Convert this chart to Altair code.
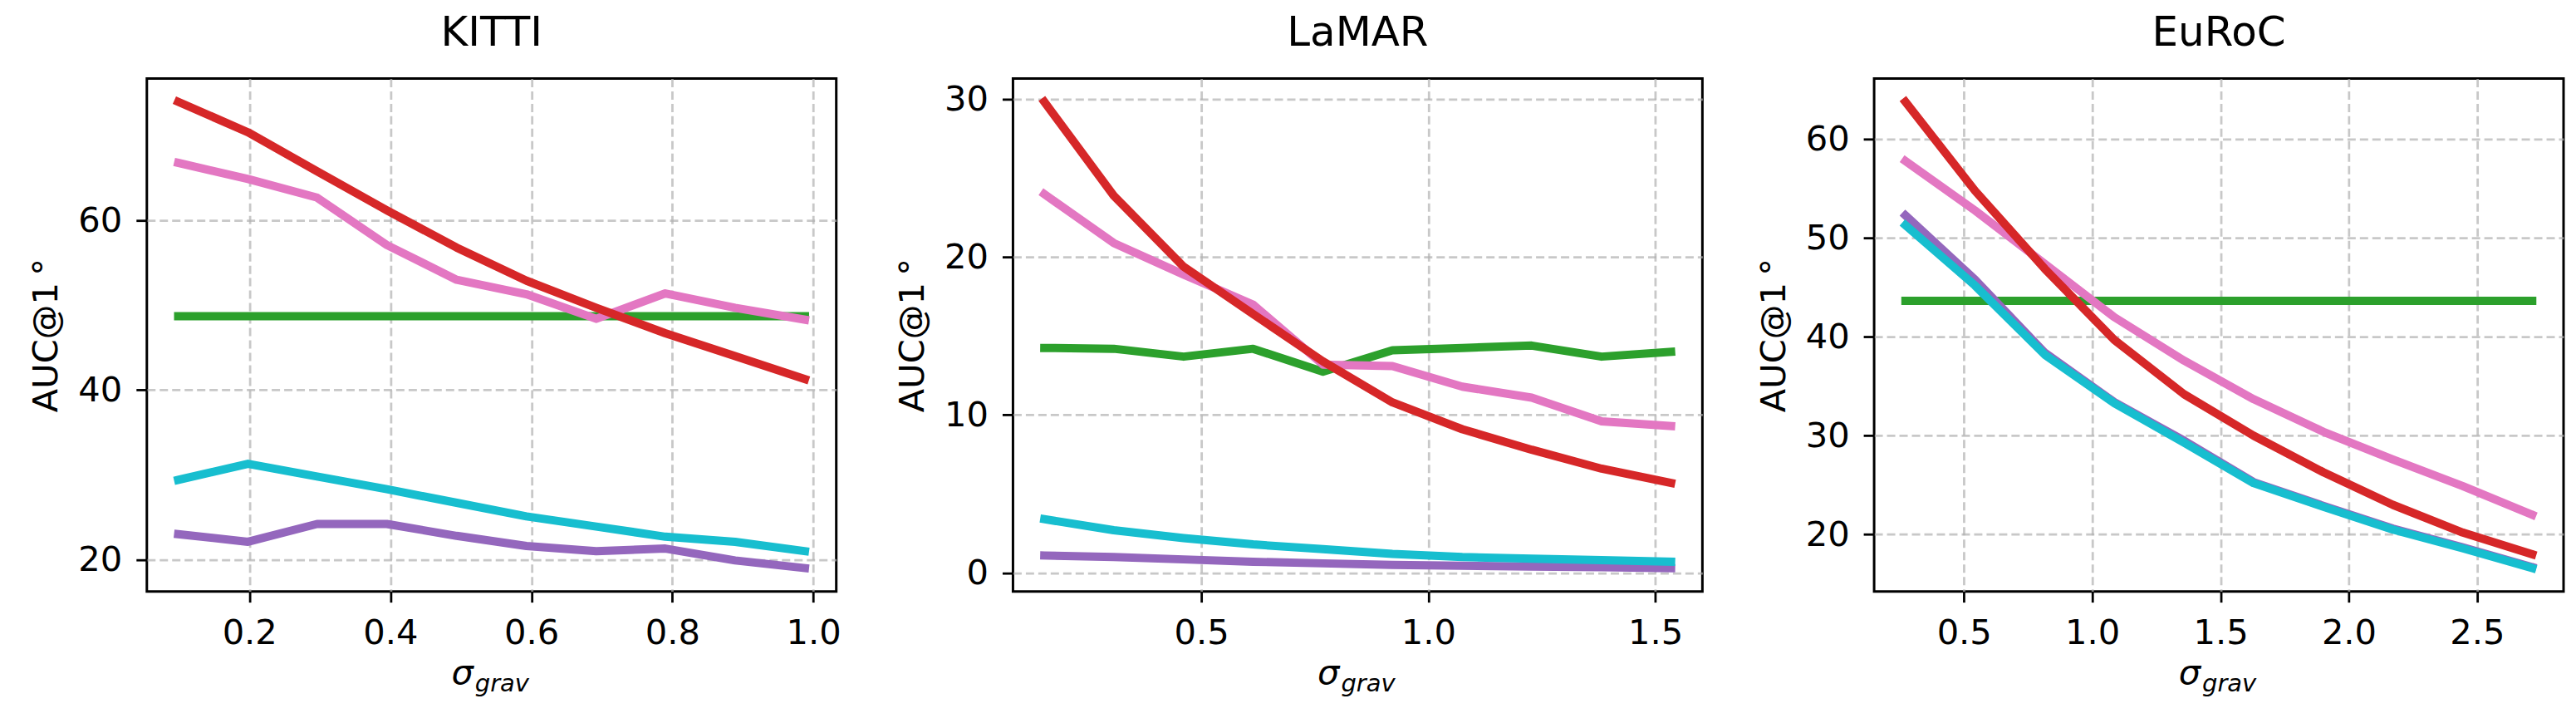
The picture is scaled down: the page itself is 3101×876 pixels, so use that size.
import altair as alt
import pandas as pd

# ---------------- data ----------------
titles = ["KITTI", "LaMAR", "EuRoC"]
series_order = ["green", "purple", "cyan", "pink", "red"]   # drawing order
series_colors = ["#2ca02c", "#9467bd", "#17becf", "#e377c2", "#d62728"]

kitti_x = [0.099, 0.198, 0.296, 0.395, 0.494, 0.593, 0.692, 0.790, 0.889, 0.988]
kitti_red = [74.0, 70.4, 65.8, 61.2, 56.8, 52.9, 49.7, 46.7, 44.0, 41.3]
kitti_pink = [66.8, 64.9, 62.7, 57.1, 53.0, 51.3, 48.4, 51.4, 49.7, 48.3]
kitti_green = [48.7, 48.7, 48.7, 48.7, 48.7, 48.7, 48.7, 48.7, 48.7, 48.7]
kitti_cyan = [29.4, 31.3, 29.8, 28.3, 26.7, 25.1, 23.9, 22.7, 22.1, 21.0]
kitti_purple = [23.0, 22.1, 24.2, 24.2, 22.8, 21.6, 21.0, 21.3, 19.9, 19.0]

lamar_x = [0.154, 0.307, 0.461, 0.614, 0.768, 0.921, 1.075, 1.228, 1.382, 1.535]
lamar_red = [29.85, 23.9, 19.4, 16.4, 13.4, 10.8, 9.1, 7.8, 6.6, 5.7]
lamar_pink = [24.0, 20.9, 18.9, 17.0, 13.2, 13.1, 11.8, 11.1, 9.6, 9.3]
lamar_green = [14.25, 14.2, 13.7, 14.2, 12.75, 14.1, 14.25, 14.4, 13.7, 14.0]
lamar_cyan = [3.4, 2.7, 2.2, 1.8, 1.5, 1.2, 1.0, 0.9, 0.8, 0.7]
lamar_purple = [1.1, 1.0, 0.85, 0.7, 0.6, 0.5, 0.45, 0.4, 0.35, 0.3]

euroc_x = [0.272, 0.543, 0.815, 1.086, 1.358, 1.629, 1.901, 2.172, 2.444, 2.715]
euroc_red = [63.8, 54.8, 46.9, 39.7, 34.2, 30.0, 26.3, 23.0, 20.2, 18.0]
euroc_pink = [57.8, 52.8, 47.4, 42.0, 37.6, 33.7, 30.4, 27.6, 24.9, 22.0]
euroc_green = [43.65, 43.65, 43.65, 43.65, 43.65, 43.65, 43.65, 43.65, 43.65, 43.65]
euroc_cyan = [51.3, 45.2, 38.2, 33.3, 29.3, 25.2, 22.8, 20.5, 18.6, 16.6]
euroc_purple = [52.3, 45.8, 38.4, 33.4, 29.5, 25.3, 22.9, 20.6, 18.7, 16.7]

kitti_xticks = [0.2, 0.4, 0.6, 0.8, 1.0]
kitti_yticks = [20, 40, 60]
lamar_xticks = [0.5, 1.0, 1.5]
lamar_yticks = [0, 10, 20, 30]
euroc_xticks = [0.5, 1.0, 1.5, 2.0, 2.5]
euroc_yticks = [20, 30, 40, 50, 60]

y_label = "AUC@1\u2009°"
x_label_main = ["σ"]
x_label_sub = ["grav"]

# ---------------- layout / style ----------------
W, H = 831, 618
FONT = "DejaVu Sans"
FS = 41.7


def margin_domain(vals, frac=0.05):
    lo, hi = min(vals), max(vals)
    r = hi - lo
    return [lo - frac * r, hi + frac * r]


def panel(title, xs, series, xticks, yticks):
    rows = []
    for name, ys in zip(series_order, series):
        for xv, yv in zip(xs, ys):
            rows.append({"series": name, "x": xv, "y": yv})
    df = pd.DataFrame(rows)
    xdom = margin_domain(xs)
    ydom = margin_domain([v for ys in series for v in ys])
    xenc = alt.X("x:Q", scale=alt.Scale(domain=xdom, nice=False, zero=False),
                 axis=alt.Axis(values=xticks, format=".1f", title=None, labelFlush=False))
    yenc = alt.Y("y:Q", scale=alt.Scale(domain=ydom, nice=False, zero=False),
                 axis=alt.Axis(values=yticks, format="d", title=y_label, labelFlush=False))
    layers = []
    for name, col in zip(series_order, series_colors):
        layers.append(
            alt.Chart(df).transform_filter(alt.datum.series == name)
            .mark_line(color=col, strokeWidth=10, strokeCap="square", strokeJoin="round")
            .encode(x=xenc, y=yenc)
        )
    sig = alt.Chart(pd.DataFrame({"t": x_label_main})).mark_text(
        font=FONT, fontSize=FS, fontStyle="italic", align="right", baseline="alphabetic", color="black"
    ).encode(text="t:N", x=alt.value(W / 2 - 22), y=alt.value(H + 112))
    sub = alt.Chart(pd.DataFrame({"t": x_label_sub})).mark_text(
        font=FONT, fontSize=29, fontStyle="italic", align="left", baseline="alphabetic", color="black"
    ).encode(text="t:N", x=alt.value(W / 2 - 20), y=alt.value(H + 121))
    return alt.layer(*layers, sig, sub).properties(
        width=W, height=H,
        title=alt.TitleParams(title, font=FONT, fontSize=50, fontWeight="normal", color="black",
                              anchor="middle", frame="group", baseline="alphabetic", offset=-11),
    )


p1 = panel(titles[0], kitti_x, [kitti_green, kitti_purple, kitti_cyan, kitti_pink, kitti_red],
           kitti_xticks, kitti_yticks)
p2 = panel(titles[1], lamar_x, [lamar_green, lamar_purple, lamar_cyan, lamar_pink, lamar_red],
           lamar_xticks, lamar_yticks)
p3 = panel(titles[2], euroc_x, [euroc_green, euroc_purple, euroc_cyan, euroc_pink, euroc_red],
           euroc_xticks, euroc_yticks)

chart = (
    alt.hconcat(p1, p2, p3, spacing=62)
    .properties(padding={"left": 26, "top": 5, "right": 5, "bottom": 5})
    .configure_view(stroke="black", strokeWidth=3)
    .configure_axis(
        domain=False,
        labelFont=FONT, labelFontSize=FS, labelColor="black", labelPadding=17,
        tickColor="black", tickWidth=2.8, tickSize=13,
        gridColor="#b0b0b0", gridOpacity=0.7, gridWidth=2.8, gridDash=[10, 5],
        titleFont=FONT, titleFontSize=FS, titleFontWeight="normal", titleColor="black",
        titlePadding=16,
    )
)

chart.save("out.html", embed_options={"renderer": "svg", "actions": False})
